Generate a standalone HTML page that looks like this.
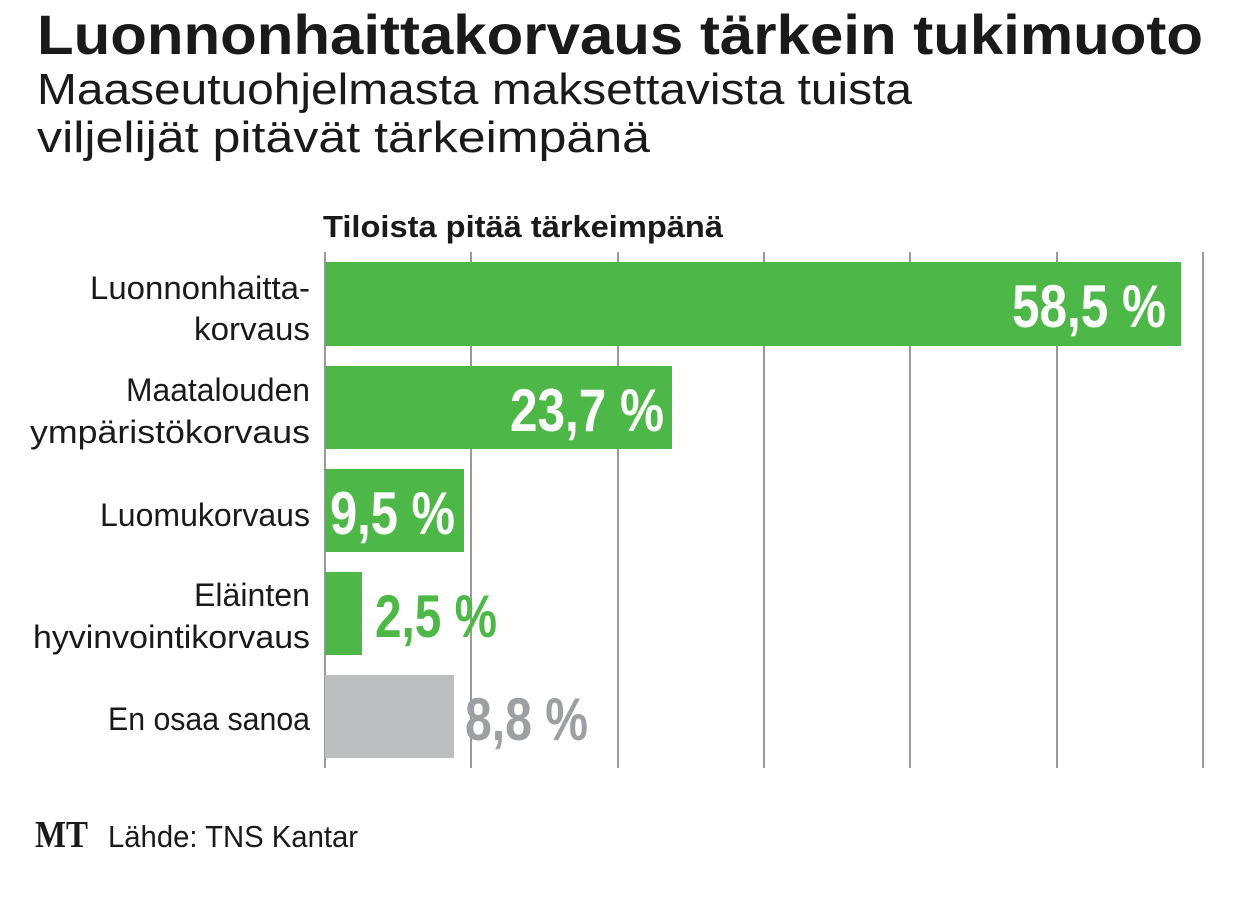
<!DOCTYPE html>
<html><head><meta charset="utf-8"><style>html,body{margin:0;padding:0;background:#fff;}svg{display:block}</style></head>
<body>
<svg width="1240" height="897" viewBox="0 0 1240 897" xmlns="http://www.w3.org/2000/svg" font-family="Liberation Sans, sans-serif">
<rect width="1240" height="897" fill="#fff"/>
<text x="37" y="54" font-size="56" font-weight="bold" fill="#1a1a1a" textLength="1166" lengthAdjust="spacingAndGlyphs">Luonnonhaittakorvaus tärkein tukimuoto</text>
<text x="37" y="104" font-size="44" fill="#1a1a1a" textLength="875" lengthAdjust="spacingAndGlyphs">Maaseutuohjelmasta maksettavista tuista</text>
<text x="37" y="152" font-size="44" fill="#1a1a1a" textLength="613" lengthAdjust="spacingAndGlyphs">viljelijät pitävät tärkeimpänä</text>
<text x="323" y="237" font-size="31" font-weight="bold" fill="#1a1a1a" textLength="400" lengthAdjust="spacingAndGlyphs">Tiloista pitää tärkeimpänä</text>
<g stroke="#9a9a9a" stroke-width="2">
<line x1="325" y1="252" x2="325" y2="768"/><line x1="471" y1="252" x2="471" y2="768"/><line x1="618" y1="252" x2="618" y2="768"/><line x1="764" y1="252" x2="764" y2="768"/><line x1="910" y1="252" x2="910" y2="768"/><line x1="1057" y1="252" x2="1057" y2="768"/><line x1="1203" y1="252" x2="1203" y2="768"/>
</g>
<rect x="325" y="262" width="856" height="84" fill="#4db848"/>
<rect x="325" y="366" width="347" height="83" fill="#4db848"/>
<rect x="325" y="469" width="139" height="83" fill="#4db848"/>
<rect x="325" y="572" width="37" height="83" fill="#4db848"/>
<rect x="325" y="675" width="129" height="83" fill="#bcbec0"/>
<g font-size="32" fill="#1a1a1a" text-anchor="end">
<text x="310" y="299" textLength="220" lengthAdjust="spacingAndGlyphs">Luonnonhaitta-</text>
<text x="310" y="340" textLength="116" lengthAdjust="spacingAndGlyphs">korvaus</text>
<text x="310" y="401" textLength="184" lengthAdjust="spacingAndGlyphs">Maatalouden</text>
<text x="310" y="443" textLength="280" lengthAdjust="spacingAndGlyphs">ympäristökorvaus</text>
<text x="310" y="526" textLength="210" lengthAdjust="spacingAndGlyphs">Luomukorvaus</text>
<text x="310" y="606" textLength="116" lengthAdjust="spacingAndGlyphs">Eläinten</text>
<text x="310" y="648" textLength="277" lengthAdjust="spacingAndGlyphs">hyvinvointikorvaus</text>
<text x="310" y="730" textLength="202" lengthAdjust="spacingAndGlyphs">En osaa sanoa</text>
</g>
<g font-size="60" font-weight="bold">
<text x="1012" y="327" fill="#fff" textLength="154" lengthAdjust="spacingAndGlyphs">58,5 %</text>
<text x="510" y="431" fill="#fff" textLength="154" lengthAdjust="spacingAndGlyphs">23,7 %</text>
<text x="330" y="534" fill="#fff" textLength="125" lengthAdjust="spacingAndGlyphs">9,5 %</text>
<text x="375" y="637" fill="#4db848" textLength="122" lengthAdjust="spacingAndGlyphs">2,5 %</text>
<text x="465" y="740" fill="#9d9fa2" textLength="123" lengthAdjust="spacingAndGlyphs">8,8 %</text>
</g>
<text x="35" y="847" font-family="Liberation Serif, serif" font-size="38" font-weight="bold" fill="#1a1a1a" textLength="53" lengthAdjust="spacingAndGlyphs">MT</text>
<text x="108" y="847" font-size="31" fill="#1a1a1a" textLength="250" lengthAdjust="spacingAndGlyphs">Lähde: TNS Kantar</text>
</svg>
</body></html>
